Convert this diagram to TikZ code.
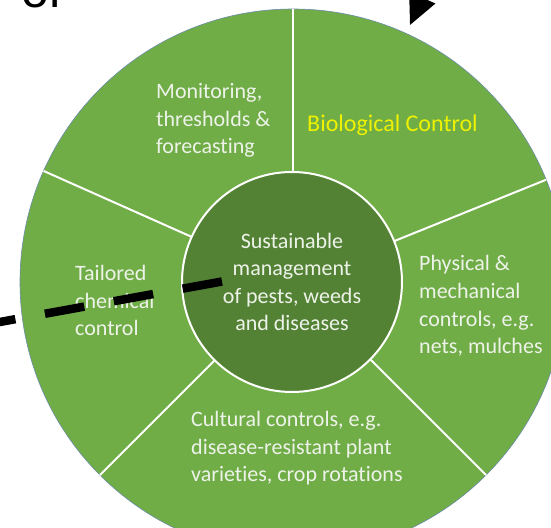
\documentclass[tikz,border=0pt]{standalone}
\usepackage{fontspec}
\setmainfont{Carlito}[Ligatures={NoCommon}]
\newfontfamily\arialfont{Liberation Sans}
\usetikzlibrary{arrows.meta}
\definecolor{outergreen}{HTML}{70AD47}
\definecolor{innergreen}{HTML}{548235}
\definecolor{paletext}{HTML}{EEF3EA}
\definecolor{biotext}{HTML}{EEF200}
\definecolor{rimblue}{HTML}{6A8CA8}
\begin{document}
\begin{tikzpicture}[x=1pt,y=1pt,
  labeltext/.style={text=paletext, font=\fontsize{22}{27.6}\selectfont, align=left, anchor=west, inner sep=0pt},
  divider/.style={draw=white, line width=2pt},
  dashstroke/.style={draw=black, line width=8.5pt, dash pattern=on 40pt off 30pt},
]
\useasboundingbox (0,0) rectangle (551,-527);
\clip (0,0) rectangle (551,-527);
\fill[white] (0,0) rectangle (551,-527);
% top-left text fragment
\node[font=\arialfont\fontsize{50}{60}\selectfont, anchor=base west, inner sep=0pt] (ortext) at (21,-7.5) {or};
% outer wheel
\coordinate (c) at (293,-282);
\draw[fill=outergreen, draw=rimblue, line width=0.6pt] (c) circle (273);
\foreach \a in {90,22,-45,-135,156} \draw[divider] (c) -- ++(\a:273);
% hub
\node[circle, fill=innergreen, draw=white, line width=2pt, minimum size=220pt, inner sep=0pt,
      text=paletext, align=center, font=\fontsize{22}{27.6}\selectfont] (hub) at (292,-282)
      {Sustainable\\management\\of pests, weeds\\and diseases};
% sector labels
\node[labeltext] (monitor) at (156,-120.5) {Monitoring,\\thresholds \&\\forecasting};
\node[labeltext, text=biotext, font=\fontsize{24}{28}\selectfont] (bio) at (307,-125) {Biological Control};
\node[labeltext] (chem) at (75,-300.5) {Tailored\\chemical\\control};
\node[labeltext] (phys) at (419,-306) {Physical \&\\mechanical\\controls, e.g.\\nets, mulches};
\node[labeltext] (cult) at (191,-448.5) {Cultural controls, e.g.\\disease-resistant plant\\varieties, crop rotations};
% dashed line from the left
\coordinate (dashend) at (222,-281.5);
\coordinate (dashfar) at (-60,-332.9);
\draw[dashstroke] (dashend) -- (dashfar);
% arrow tip at the top
\coordinate (arrtip) at (410,-25);
\coordinate (arrfrom) at (454,73);
\draw[line width=3pt, -{Triangle[length=30pt,width=28pt]}] (arrfrom) -- (arrtip);
\end{tikzpicture}
\end{document}
